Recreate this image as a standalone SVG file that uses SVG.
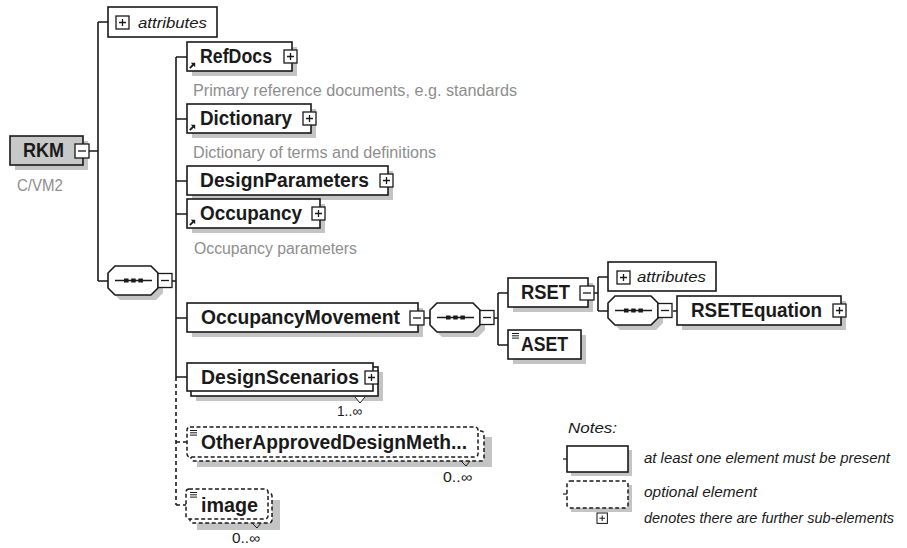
<svg xmlns="http://www.w3.org/2000/svg" xmlns:xlink="http://www.w3.org/1999/xlink" width="907" height="548" viewBox="0 0 907 548">
  <style>
    .box { fill: #fff; stroke: #1a1a1a; stroke-width: 1.6; }
    .opt { fill: #fff; stroke: #1a1a1a; stroke-width: 1.5; stroke-dasharray: 4 2.5; }
    .shadow { fill: #c4c4c4; stroke: none; }
    .wire { fill: none; stroke: #1a1a1a; stroke-width: 1.6; }
    .dash { stroke-dasharray: 4 3; }
    text { font-family: "Liberation Sans", Arial, sans-serif; }
    .lbl { font-weight: bold; font-size: 19.5px; fill: #1a1a1a; }
    .attr { font-style: italic; font-size: 15.5px; fill: #1a1a1a; }
    .doc { font-size: 16px; fill: #8e8e8e; }
    .card { font-size: 14px; fill: #1a1a1a; }
    .note { font-style: italic; font-size: 14px; fill: #1a1a1a; }
  </style>
  <defs>
    <g id="plus">
      <rect x="0" y="0" width="13" height="13" fill="#fff" stroke="#1a1a1a" stroke-width="1.3"/>
      <path d="M3 6.5H10M6.5 3V10" stroke="#1a1a1a" stroke-width="1.3"/>
    </g>
    <g id="minus">
      <rect x="0" y="0" width="14" height="14" fill="#fff" stroke="#1a1a1a" stroke-width="1.3"/>
      <path d="M3 7H11" stroke="#1a1a1a" stroke-width="1.3"/>
    </g>
    <g id="refArrow">
      <path d="M0.8 6.2L4.5 2.5" stroke="#1a1a1a" stroke-width="1.8"/>
      <path d="M1.8 0.8H6.2V5.2Z" fill="#1a1a1a"/>
    </g>
    <g id="docMark">
      <path d="M0 0.5H7M0 2.8H7M0 5.1H7" stroke="#1a1a1a" stroke-width="1"/>
    </g>
    <!-- sequence compositor with its collapse button -->
    <g id="seq">
      <path class="shadow" d="M12,5 H48 L55,12 V27 L48,34 H12 L5,27 V12 Z"/>
      <path class="box" d="M7,0 H43 L50,7 V22 L43,29 H7 L0,22 V7 Z"/>
      <path d="M7 14.5H44" stroke="#1a1a1a" stroke-width="1.6"/>
      <rect x="16" y="12.5" width="4.5" height="4" fill="#1a1a1a"/>
      <rect x="23.2" y="12.5" width="4.5" height="4" fill="#1a1a1a"/>
      <rect x="30.4" y="12.5" width="4.5" height="4" fill="#1a1a1a"/>
      <use xlink:href="#minus" x="50" y="7.5"/>
    </g>
  </defs>

  <rect width="907" height="548" fill="#fff"/>

  <!-- connectors -->
  <g id="connectors" class="wire">
    <path d="M89 151H98M98 22V281M98 22H108M98 281H108"/>
    <path d="M172 281H176M176 57V377"/>
    <path d="M176 57H187M176 119H187M176 181H187M176 214H187M176 318H187M176 377H187"/>
    <path class="dash" d="M176 377V505M176 442H187M176 505H186"/>
    <path d="M424 318H430M494 318H498M498 293V345M498 293H508M498 345H508"/>
    <path d="M594 293H598M598 277V311M598 277H608M598 311H608M673 311H677"/>
  </g>

  <!-- root element -->
  <g id="RKM">
    <rect class="shadow" x="15" y="141" width="73" height="29"/>
    <rect x="10" y="136" width="73" height="29" fill="#c8c8c8" stroke="#1a1a1a" stroke-width="1.6"/>
    <text class="lbl" x="23" y="157" textLength="41" lengthAdjust="spacingAndGlyphs">RKM</text>
    <use xlink:href="#minus" x="75" y="144"/>
    <text class="doc" x="17" y="191" textLength="46" lengthAdjust="spacingAndGlyphs">C/VM2</text>
  </g>

  <g id="attributes-rkm">
    <rect class="box" x="108" y="7" width="109" height="30"/>
    <use xlink:href="#plus" x="116" y="16"/>
    <text class="attr" x="138" y="28" textLength="69" lengthAdjust="spacingAndGlyphs">attributes</text>
  </g>

  <g id="seq-rkm">
    <use xlink:href="#seq" x="108" y="266"/>
  </g>

  <g id="RefDocs">
    <rect class="shadow" x="192" y="47" width="105" height="29"/>
    <rect class="box" x="187" y="42" width="105" height="29"/>
    <use xlink:href="#refArrow" x="189" y="62"/>
    <text class="lbl" x="200" y="63" textLength="72" lengthAdjust="spacingAndGlyphs">RefDocs</text>
    <use xlink:href="#plus" x="284" y="50"/>
    <text class="doc" x="193" y="96" textLength="324" lengthAdjust="spacingAndGlyphs">Primary reference documents, e.g. standards</text>
  </g>

  <g id="Dictionary">
    <rect class="shadow" x="192" y="109" width="124" height="29"/>
    <rect class="box" x="187" y="104" width="124" height="29"/>
    <use xlink:href="#refArrow" x="189" y="124"/>
    <text class="lbl" x="200" y="125" textLength="92" lengthAdjust="spacingAndGlyphs">Dictionary</text>
    <use xlink:href="#plus" x="303" y="112"/>
    <text class="doc" x="193" y="158" textLength="243" lengthAdjust="spacingAndGlyphs">Dictionary of terms and definitions</text>
  </g>

  <g id="DesignParameters">
    <rect class="shadow" x="192" y="171" width="201" height="29"/>
    <rect class="box" x="187" y="166" width="201" height="29"/>
    <text class="lbl" x="200" y="187" textLength="169" lengthAdjust="spacingAndGlyphs">DesignParameters</text>
    <use xlink:href="#plus" x="380" y="174"/>
  </g>

  <g id="Occupancy">
    <rect class="shadow" x="192" y="204" width="133" height="29"/>
    <rect class="box" x="187" y="199" width="133" height="29"/>
    <use xlink:href="#refArrow" x="189" y="219"/>
    <text class="lbl" x="200" y="220" textLength="102" lengthAdjust="spacingAndGlyphs">Occupancy</text>
    <use xlink:href="#plus" x="312" y="207"/>
    <text class="doc" x="194" y="254" textLength="163" lengthAdjust="spacingAndGlyphs">Occupancy parameters</text>
  </g>

  <g id="OccupancyMovement">
    <rect class="shadow" x="192" y="308" width="231" height="29"/>
    <rect class="box" x="187" y="303" width="231" height="29"/>
    <text class="lbl" x="201" y="324" textLength="199" lengthAdjust="spacingAndGlyphs">OccupancyMovement</text>
    <use xlink:href="#minus" x="410" y="311"/>
  </g>

  <g id="seq-movement">
    <use xlink:href="#seq" x="430" y="303"/>
  </g>

  <g id="RSET">
    <rect class="shadow" x="513" y="283" width="80" height="29"/>
    <rect class="box" x="508" y="278" width="80" height="29"/>
    <text class="lbl" x="521" y="299" textLength="49" lengthAdjust="spacingAndGlyphs">RSET</text>
    <use xlink:href="#minus" x="580" y="286"/>
  </g>

  <g id="ASET">
    <rect class="shadow" x="513" y="335" width="73" height="29"/>
    <rect class="box" x="508" y="330" width="73" height="29"/>
    <use xlink:href="#docMark" x="512" y="333"/>
    <text class="lbl" x="521" y="351" textLength="47" lengthAdjust="spacingAndGlyphs">ASET</text>
  </g>

  <g id="attributes-rset">
    <rect class="box" x="608" y="262" width="108" height="29"/>
    <use xlink:href="#plus" x="617" y="271"/>
    <text class="attr" x="637" y="282" textLength="69" lengthAdjust="spacingAndGlyphs">attributes</text>
  </g>

  <g id="seq-rset">
    <use xlink:href="#seq" x="608" y="296"/>
  </g>

  <g id="RSETEquation">
    <rect class="shadow" x="682" y="301" width="164" height="29"/>
    <rect class="box" x="677" y="296" width="164" height="29"/>
    <text class="lbl" x="691" y="317" textLength="131" lengthAdjust="spacingAndGlyphs">RSETEquation</text>
    <use xlink:href="#plus" x="833" y="304"/>
  </g>

  <g id="DesignScenarios">
    <rect class="shadow" x="196" y="372" width="187" height="29"/>
    <rect class="box" x="191" y="367" width="187" height="29"/>
    <rect class="box" x="187" y="363" width="186" height="28"/>
    <text class="lbl" x="201" y="384" textLength="158" lengthAdjust="spacingAndGlyphs">DesignScenarios</text>
    <use xlink:href="#plus" x="365" y="371"/>
    <path d="M355 397L360 403L365 397" fill="#fff" stroke="#1a1a1a" stroke-width="1"/>
    <text class="card" x="337" y="416" textLength="25" lengthAdjust="spacingAndGlyphs">1..∞</text>
  </g>

  <g id="OtherApprovedDesignMethods">
    <rect class="shadow" x="197" y="437" width="295" height="30"/>
    <rect class="opt" x="191" y="431" width="293" height="30" rx="3"/>
    <rect class="opt" x="187" y="427" width="291" height="30" rx="3"/>
    <use xlink:href="#docMark" x="190" y="430"/>
    <text class="lbl" x="201" y="449" textLength="266" lengthAdjust="spacingAndGlyphs">OtherApprovedDesignMeth...</text>
    <path d="M461 461L466 466L470 461" fill="none" stroke="#1a1a1a" stroke-width="1"/>
    <text class="card" x="443" y="482" textLength="29" lengthAdjust="spacingAndGlyphs">0..∞</text>
  </g>

  <g id="image">
    <rect class="shadow" x="197" y="500" width="83" height="30"/>
    <rect class="opt" x="190" y="493" width="82" height="30" rx="3"/>
    <rect class="opt" x="186" y="489" width="82" height="30" rx="3"/>
    <use xlink:href="#docMark" x="190" y="492"/>
    <text class="lbl" x="201" y="512" textLength="57" lengthAdjust="spacingAndGlyphs">image</text>
    <path d="M252 523L257 528L261 523" fill="none" stroke="#1a1a1a" stroke-width="1"/>
    <text class="card" x="232" y="543" textLength="28" lengthAdjust="spacingAndGlyphs">0..∞</text>
  </g>

  <!-- legend -->
  <g id="legend">
    <text class="note" x="568" y="433" font-size="16.5" textLength="49" lengthAdjust="spacingAndGlyphs">Notes:</text>
    <rect class="shadow" x="571" y="450" width="61" height="26"/>
    <rect class="box" x="567" y="446" width="61" height="26"/>
    <path d="M563 459H567" stroke="#1a1a1a" stroke-width="1.2"/>
    <text class="note" x="644" y="463" textLength="246" lengthAdjust="spacingAndGlyphs">at least one element must be present</text>
    <rect class="shadow" x="571" y="485" width="61" height="27"/>
    <rect class="opt" x="567" y="481" width="61" height="27" rx="3" stroke-dasharray="3 2"/>
    <path d="M563 494H567" stroke="#1a1a1a" stroke-width="1.2"/>
    <text class="note" x="644" y="497" textLength="113" lengthAdjust="spacingAndGlyphs">optional element</text>
    <g transform="translate(597 513) scale(0.8)">
      <use xlink:href="#plus"/>
    </g>
    <text class="note" x="644" y="523" textLength="250" lengthAdjust="spacingAndGlyphs">denotes there are further sub-elements</text>
  </g>
</svg>
